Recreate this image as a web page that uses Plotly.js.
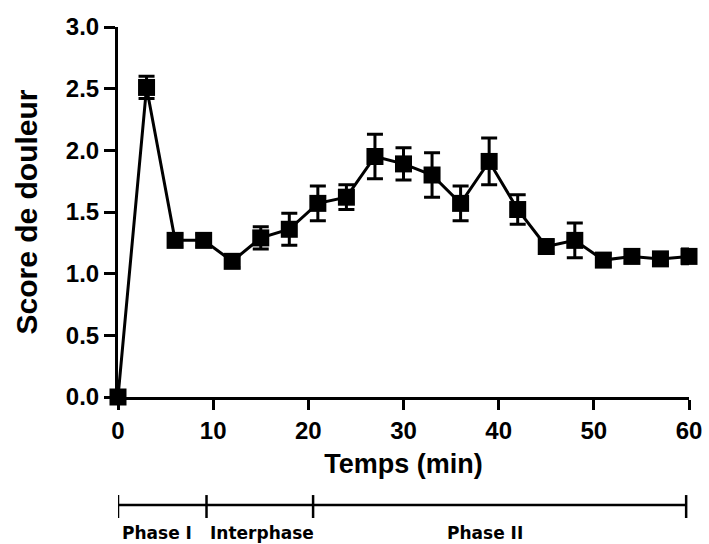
<!DOCTYPE html>
<html>
<head>
<meta charset="utf-8">
<script src="https://cdn.plot.ly/plotly-3.0.1.min.js"></script>
<style>html,body{margin:0;padding:0;background:#fff;}#chart{width:709px;height:544px;}</style>
</head>
<body>
<div id="chart"></div>
<script>
// Data
const timeMin = [0, 3, 6, 9, 12, 15, 18, 21, 24, 27, 30, 33, 36, 39, 42, 45, 48, 51, 54, 57, 60];
const painScore = [0, 2.51, 1.27, 1.27, 1.10, 1.29, 1.36, 1.57, 1.62, 1.95, 1.89, 1.80, 1.57, 1.91, 1.52, 1.22, 1.27, 1.11, 1.14, 1.12, 1.14];
const painSem = [0, 0.09, 0.05, 0.05, 0.05, 0.09, 0.13, 0.14, 0.10, 0.18, 0.13, 0.18, 0.14, 0.19, 0.12, 0.05, 0.14, 0.05, 0.05, 0.04, 0.06];
const xTicks = [0, 10, 20, 30, 40, 50, 60];
const yTicks = [0, 0.5, 1.0, 1.5, 2.0, 2.5, 3.0];
const phaseBounds = [0, 9.3, 20.5, 59.7];
const phaseLabels = ["Phase I", "Interphase", "Phase II"];

const FONT = "Liberation Sans, Arial, sans-serif";
const WIDEFONT = "DejaVu Sans, sans-serif";

const trace = {
  x: timeMin, y: painScore, type: "scatter", mode: "lines+markers",
  line: {color: "#000", width: 3},
  marker: {symbol: "square", size: 17, color: "#000"},
  error_y: {type: "data", array: painSem, visible: true, color: "#000", thickness: 3, width: 8},
  cliponaxis: false, showlegend: false
};

const lineY = -0.292;
const shapes = [{
  type: "line", xref: "x", yref: "paper",
  x0: phaseBounds[0], x1: phaseBounds[phaseBounds.length - 1], y0: lineY, y1: lineY,
  line: {color: "#000", width: 2.5}
}];
phaseBounds.forEach(b => shapes.push({
  type: "line", xref: "x", yref: "paper", x0: b, x1: b, y0: lineY + 0.027, y1: lineY - 0.035,
  line: {color: "#000", width: 2.5}
}));

const labelX = [4.1, 15.1, 38.6];
const annotations = phaseLabels.map((t, i) => ({
  text: "<b>" + t + "</b>", xref: "x", yref: "paper",
  x: labelX[i], y: -0.368, xanchor: "center", yanchor: "middle",
  showarrow: false, font: {family: WIDEFONT, size: 17, color: "#000"}
}));

const layout = {
  width: 709, height: 544,
  margin: {l: 118, r: 20, t: 27, b: 147},
  paper_bgcolor: "#fff", plot_bgcolor: "#fff",
  font: {family: FONT, color: "#000"},
  xaxis: {
    range: [0, 60], tickvals: xTicks, ticktext: xTicks.map(String),
    showgrid: false, zeroline: false, showline: true, linecolor: "#000", linewidth: 3,
    ticks: "outside", ticklen: 10, tickwidth: 3, tickcolor: "#000",
    tickfont: {family: FONT, size: 24, color: "#000", weight: "bold"},
    title: {text: "<b>Temps (min)</b>", font: {family: FONT, size: 27, color: "#000"}, standoff: 12}
  },
  yaxis: {
    range: [0, 3], tickvals: yTicks, ticktext: yTicks.map(v => v.toFixed(1)),
    showgrid: false, zeroline: false, showline: true, linecolor: "#000", linewidth: 3,
    ticks: "outside", ticklen: 11, tickwidth: 3, tickcolor: "#000",
    tickfont: {family: FONT, size: 24, color: "#000", weight: "bold"},
    title: {text: "<b>Score de douleur</b>", font: {family: FONT, size: 30, color: "#000"}, standoff: 20}
  },
  shapes: shapes,
  annotations: annotations
};

Plotly.newPlot("chart", [trace], layout, {displayModeBar: false, staticPlot: true});
</script>
</body>
</html>
